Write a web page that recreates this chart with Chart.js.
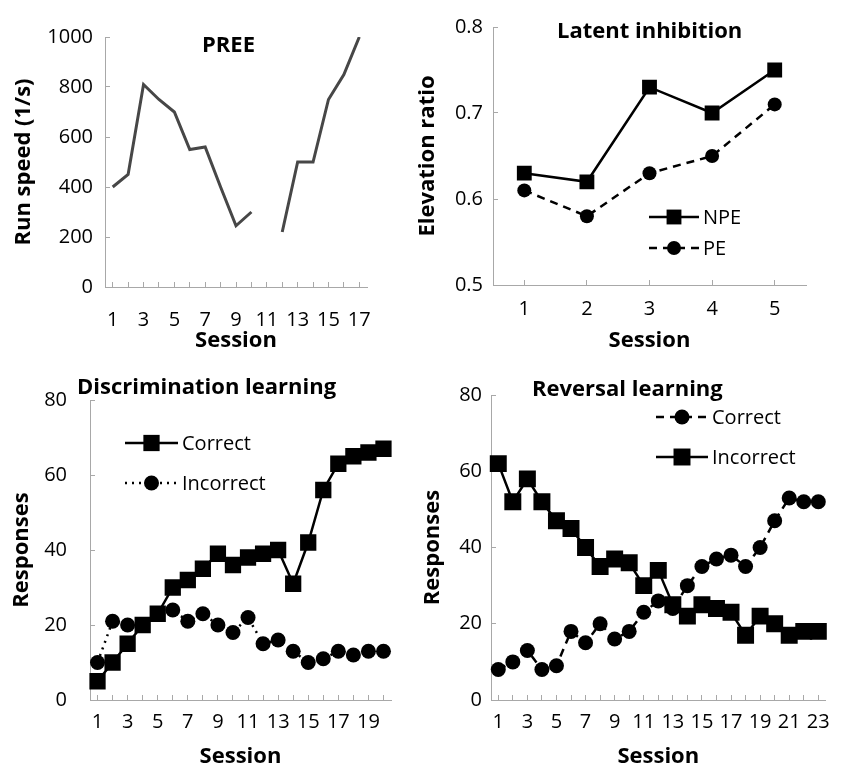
<!DOCTYPE html>
<html>
<head>
<meta charset="utf-8">
<script src="https://cdn.jsdelivr.net/npm/chart.js@4/dist/chart.umd.min.js"></script>
<style>
  body { margin: 0; background: #fff; width: 845px; height: 770px; position: relative; overflow: hidden; }
  canvas { position: absolute; }
</style>
</head>
<body>
<canvas id="preeChart" width="420" height="360" style="left:0;top:0"></canvas>
<canvas id="latentChart" width="440" height="360" style="left:405px;top:0"></canvas>
<canvas id="discChart" width="420" height="410" style="left:0;top:360px"></canvas>
<canvas id="revChart" width="440" height="410" style="left:405px;top:360px"></canvas>
<script>
// PREE
const preeSessions = ['1','2','3','4','5','6','7','8','9','10','11','12','13','14','15','16','17'];
const preeRunSpeed = [400, 450, 810, 750, 700, 550, 560, 400, 245, 300, null, 220, 500, 500, 750, 850, 1000];

// Latent inhibition
const latentSessions = ['1','2','3','4','5'];
const latentNPE = [0.63, 0.62, 0.73, 0.70, 0.75];
const latentPE = [0.61, 0.58, 0.63, 0.65, 0.71];

// Discrimination learning
const discSessions = ['1','2','3','4','5','6','7','8','9','10','11','12','13','14','15','16','17','18','19','20'];
const discCorrect = [5, 10, 15, 20, 23, 30, 32, 35, 39, 36, 38, 39, 40, 31, 42, 56, 63, 65, 66, 67];
const discIncorrect = [10, 21, 20, 20, 23, 24, 21, 23, 20, 18, 22, 15, 16, 13, 10, 11, 13, 12, 13, 13];

// Reversal learning
const revSessions = ['1','2','3','4','5','6','7','8','9','10','11','12','13','14','15','16','17','18','19','20','21','22','23'];
const revCorrect = [8, 10, 13, 8, 9, 18, 15, 20, 16, 18, 23, 26, 24, 30, 35, 37, 38, 35, 40, 47, 53, 52, 52];
const revIncorrect = [62, 52, 58, 52, 47, 45, 40, 35, 37, 36, 30, 34, 25, 22, 25, 24, 23, 17, 22, 20, 17, 18, 18];

const axisGray = '#a8a8a8';
const tickFont = { size: 20 };
const boldFont = { size: 22, weight: 'bold' };

Chart.defaults.font.family = '"Open Sans", sans-serif';
Chart.defaults.color = '#000';

// panel title and in-plot legend
const panelDecor = {
  id: 'panelDecor',
  afterDraw(chart, args, opts) {
    const ctx = chart.ctx;
    ctx.save();
    if (opts.title) {
      ctx.font = 'bold 22px "Open Sans"';
      ctx.fillStyle = '#000';
      ctx.textAlign = 'left';
      ctx.textBaseline = 'middle';
      ctx.fillText(opts.title.text, opts.title.x, opts.title.y);
    }
    (opts.legend || []).forEach(item => {
      const ds = chart.data.datasets[item.dataset];
      ctx.strokeStyle = ds.borderColor;
      ctx.lineWidth = ds.borderWidth;
      ctx.setLineDash(ds.borderDash || []);
      ctx.beginPath();
      ctx.moveTo(item.x, item.y);
      ctx.lineTo(item.x + item.len, item.y);
      ctx.stroke();
      ctx.setLineDash([]);
      ctx.fillStyle = ds.pointBackgroundColor;
      const cx = item.x + item.len / 2;
      ctx.beginPath();
      if (ds.pointStyle === 'rect') {
        const half = ds.pointRadius * Math.SQRT1_2;
        ctx.rect(cx - half, item.y - half, half * 2, half * 2);
      } else {
        ctx.arc(cx, item.y, ds.pointRadius, 0, Math.PI * 2);
      }
      ctx.fill();
      ctx.font = '20px "Open Sans"';
      ctx.fillStyle = '#000';
      ctx.textAlign = 'left';
      ctx.textBaseline = 'middle';
      ctx.fillText(ds.label, item.x + item.len + 4, item.y + 1);
    });
    ctx.restore();
  }
};

const makeScales = (cfg) => ({
  x: {
    offset: true,
    border: { color: axisGray, width: 1 },
    grid: { drawOnChartArea: false, drawTicks: true, tickLength: -5, color: axisGray },
    ticks: {
      autoSkip: false,
      maxRotation: 0,
      padding: cfg.xPad,
      font: tickFont,
      callback: function (v, i) { return i % cfg.every === 0 ? this.getLabelForValue(v) : ''; }
    },
    title: { display: true, text: 'Session', font: boldFont, padding: { top: 0, bottom: cfg.xTitlePad } },
    afterFit: (s) => { s.height = cfg.xHeight; }
  },
  y: {
    min: cfg.yMin,
    max: cfg.yMax,
    border: { color: axisGray, width: 1 },
    grid: { drawOnChartArea: false, drawTicks: true, tickLength: -5, color: axisGray },
    ticks: { stepSize: cfg.step, padding: cfg.yPad, font: tickFont, format: { useGrouping: false } },
    title: { display: true, text: cfg.yTitle, font: boldFont, padding: { top: cfg.yTitlePad, bottom: 0 } },
    afterFit: (s) => { s.width = cfg.yWidth; }
  }
});

const baseOptions = (scales, padding, decor) => ({
  responsive: false,
  animation: false,
  layout: { padding },
  plugins: { legend: { display: false }, tooltip: { enabled: false }, panelDecor: decor },
  scales
});

new Chart(document.getElementById('preeChart'), {
  type: 'line',
  data: {
    labels: preeSessions,
    datasets: [{
      label: 'Run speed',
      data: preeRunSpeed,
      borderColor: '#474747',
      borderWidth: 3,
      pointRadius: 0,
      spanGaps: false,
      tension: 0
    }]
  },
  options: baseOptions(
    makeScales({ every: 2, xPad: 26, xTitlePad: 6, xHeight: 73, yMin: 0, yMax: 1000, step: 200,
      yPad: 17, yTitle: 'Run speed (1/s)', yTitlePad: 11, yWidth: 105 }),
    { top: 37, right: 53, bottom: 0, left: 0 },
    { title: { text: 'PREE', x: 202, y: 46 } }
  ),
  plugins: [panelDecor]
});

new Chart(document.getElementById('latentChart'), {
  type: 'line',
  data: {
    labels: latentSessions,
    datasets: [{
      label: 'NPE',
      data: latentNPE,
      borderColor: '#000',
      borderWidth: 2.5,
      pointStyle: 'rect',
      pointRadius: 10.5,
      pointBorderWidth: 0,
      pointBackgroundColor: '#000',
      tension: 0
    }, {
      label: 'PE',
      data: latentPE,
      borderColor: '#000',
      borderWidth: 2.5,
      borderDash: [8, 6],
      pointStyle: 'circle',
      pointRadius: 7,
      pointBorderWidth: 0,
      pointBackgroundColor: '#000',
      tension: 0
    }]
  },
  options: baseOptions(
    makeScales({ every: 1, xPad: 17, xTitlePad: 6, xHeight: 75, yMin: 0.5, yMax: 0.8, step: 0.1,
      yPad: 15, yTitle: 'Elevation ratio', yTitlePad: 10, yWidth: 88 }),
    { top: 20, right: 39, bottom: 0, left: 0 },
    { title: { text: 'Latent inhibition', x: 152, y: 32 },
      legend: [{ dataset: 0, x: 244, y: 217, len: 50 }, { dataset: 1, x: 244, y: 248, len: 50 }] }
  ),
  plugins: [panelDecor]
});

new Chart(document.getElementById('discChart'), {
  type: 'line',
  data: {
    labels: discSessions,
    datasets: [{
      label: 'Correct',
      data: discCorrect,
      borderColor: '#000',
      borderWidth: 2.5,
      pointStyle: 'rect',
      pointRadius: 11.5,
      pointBorderWidth: 0,
      pointBackgroundColor: '#000',
      tension: 0
    }, {
      label: 'Incorrect',
      data: discIncorrect,
      borderColor: '#000',
      borderWidth: 2.5,
      borderDash: [2, 5],
      pointStyle: 'circle',
      pointRadius: 7.5,
      pointBorderWidth: 0,
      pointBackgroundColor: '#000',
      tension: 0
    }]
  },
  options: baseOptions(
    makeScales({ every: 2, xPad: 15, xTitlePad: 0, xHeight: 70, yMin: 0, yMax: 80, step: 20,
      yPad: 28, yTitle: 'Responses', yTitlePad: 9, yWidth: 90 }),
    { top: 35, right: 29, bottom: 0, left: 0 },
    { title: { text: 'Discrimination learning', x: 77, y: 28 },
      legend: [{ dataset: 0, x: 125, y: 83, len: 53 }, { dataset: 1, x: 125, y: 123, len: 53 }] }
  ),
  plugins: [panelDecor]
});

new Chart(document.getElementById('revChart'), {
  type: 'line',
  data: {
    labels: revSessions,
    datasets: [{
      label: 'Correct',
      data: revCorrect,
      borderColor: '#000',
      borderWidth: 2.5,
      borderDash: [8, 6],
      pointStyle: 'circle',
      pointRadius: 7.5,
      pointBorderWidth: 0,
      pointBackgroundColor: '#000',
      tension: 0
    }, {
      label: 'Incorrect',
      data: revIncorrect,
      borderColor: '#000',
      borderWidth: 2.5,
      pointStyle: 'rect',
      pointRadius: 12,
      pointBorderWidth: 0,
      pointBackgroundColor: '#000',
      tension: 0
    }]
  },
  options: baseOptions(
    makeScales({ every: 2, xPad: 15, xTitlePad: 0, xHeight: 70, yMin: 0, yMax: 80, step: 20,
      yPad: 14, yTitle: 'Responses', yTitlePad: 15, yWidth: 86 }),
    { top: 35, right: 7, bottom: 0, left: 0 },
    { title: { text: 'Reversal learning', x: 127, y: 30 },
      legend: [{ dataset: 0, x: 251, y: 57, len: 52 }, { dataset: 1, x: 251, y: 97, len: 52 }] }
  ),
  plugins: [panelDecor]
});
</script>
</body>
</html>
